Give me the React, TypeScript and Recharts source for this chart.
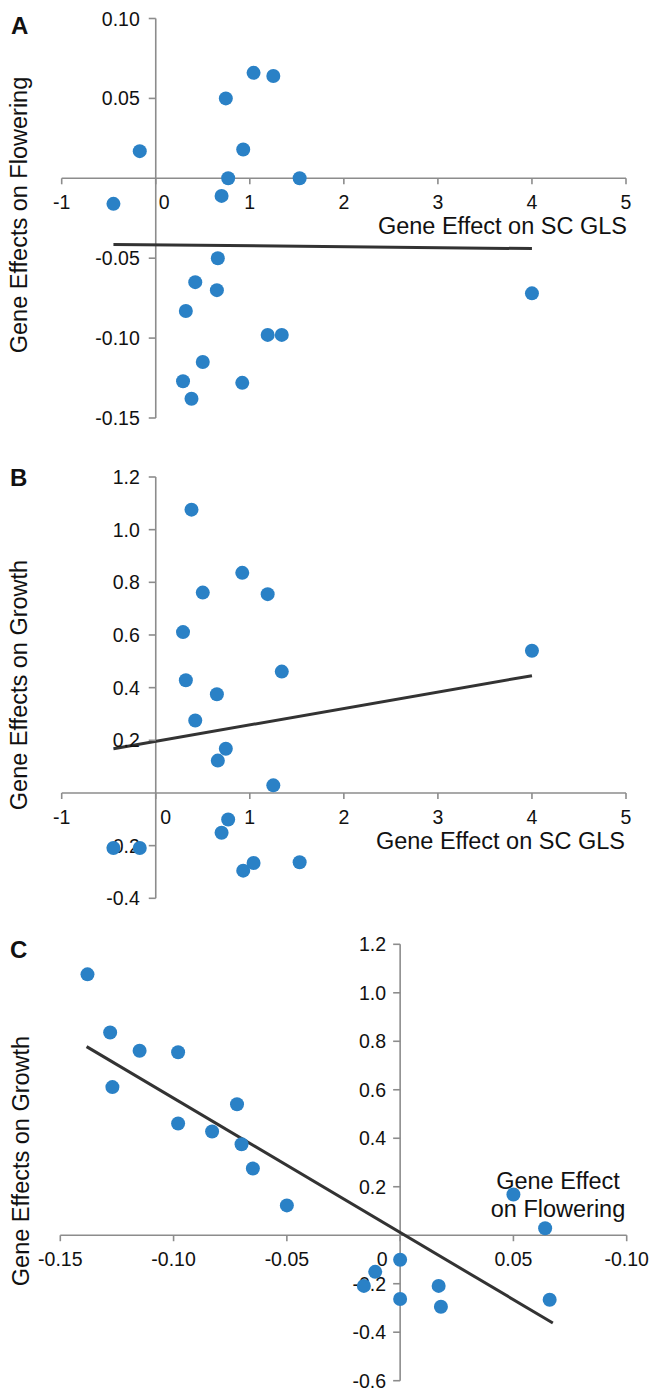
import React from 'react';
import { ScatterChart, Scatter, XAxis, YAxis, ReferenceLine, ReferenceDot } from 'recharts';

// ---- data (one entry per gene) ----
const geneEffectSCGLS = [1.04, 1.25, 0.745, -0.17, 0.93, 0.77, 1.53, 0.70, -0.45, 0.66, 0.42, 0.65, 0.32, 1.19, 1.34, 4.00, 0.50, 0.29, 0.92, 0.38];
const geneEffectFlowering = [0.066, 0.064, 0.050, 0.017, 0.018, 0.000, 0.000, -0.011, -0.016, -0.050, -0.065, -0.070, -0.083, -0.098, -0.098, -0.072, -0.115, -0.127, -0.128, -0.138];
const geneEffectGrowth = [-0.266, 0.029, 0.168, -0.209, -0.295, -0.101, -0.263, -0.151, -0.209, 0.123, 0.275, 0.375, 0.428, 0.755, 0.461, 0.540, 0.761, 0.611, 0.836, 1.076];

// trend line end points
const trendAx = [-0.45, 4.0];
const trendAy = [-0.0414, -0.044];
const trendBx = [-0.45, 4.0];
const trendBy = [0.168, 0.4455];
const trendCx = [-0.1384, 0.0674];
const trendCy = [0.778, -0.362];

// ticks
const xTicksAB = [-1, 0, 1, 2, 3, 4, 5];
const xLabelsAB = ['-1', '0', '1', '2', '3', '4', '5'];
const yTicksA = [0.1, 0.05, -0.05, -0.1, -0.15];
const yLabelsA = ['0.10', '0.05', '-0.05', '-0.10', '-0.15'];
const yTicksB = [1.2, 1.0, 0.8, 0.6, 0.4, 0.2, -0.2, -0.4];
const yLabelsB = ['1.2', '1.0', '0.8', '0.6', '0.4', '0.2', '-0.2', '-0.4'];
const xTicksC = [-0.15, -0.1, -0.05, 0, 0.05, 0.1];
const xLabelsC = ['-0.15', '-0.10', '-0.05', '0', '0.05', '-0.10'];
const yTicksC = [1.2, 1.0, 0.8, 0.6, 0.4, 0.2, -0.2, -0.4, -0.6];
const yLabelsC = ['1.2', '1.0', '0.8', '0.6', '0.4', '0.2', '-0.2', '-0.4', '-0.6'];

const ptsA = geneEffectSCGLS.map((x, i) => ({ x, y: geneEffectFlowering[i] }));
const ptsB = geneEffectSCGLS.map((x, i) => ({ x, y: geneEffectGrowth[i] }));
const ptsC = geneEffectFlowering.map((x, i) => ({ x, y: geneEffectGrowth[i] }));

const AXIS = '#8c8c8c';
const BLUE = '#2a81c6';
const FONT = '"Liberation Sans", Arial, Helvetica, sans-serif';
const TEXT = '#111111';

type PanelProps = {
  top: number;
  height: number;
  margin: { top: number; right: number; bottom: number; left: number };
  xDomain: [number, number];
  yDomain: [number, number];
  points: { x: number; y: number }[];
  tx: number[];
  ty: number[];
  xTicks: number[];
  xLabels: string[];
  yTicks: number[];
  yLabels: string[];
  zeroShift: number;
  yLabelGap: number;
};

function Panel(p: PanelProps) {
  return (
    <div style={{ position: 'absolute', left: 0, top: p.top, width: 662, height: p.height }}>
      <ScatterChart width={662} height={p.height} margin={p.margin}>
        <XAxis type="number" dataKey="x" domain={p.xDomain} hide allowDataOverflow />
        <YAxis type="number" dataKey="y" domain={p.yDomain} hide allowDataOverflow />
        <ReferenceLine y={0} stroke={AXIS} strokeWidth={1.6} />
        <ReferenceLine x={0} stroke={AXIS} strokeWidth={1.6} />
        {p.xTicks.map((t, i) => (
          <ReferenceDot
            key={'xt' + i}
            x={t}
            y={0}
            r={0}
            shape={(s: any) => (
              <g>
                <line x1={s.cx} y1={s.cy} x2={s.cx} y2={s.cy + 6} stroke={AXIS} strokeWidth={1.6} />
                <text
                  x={s.cx + (t === 0 ? p.zeroShift : 0)}
                  y={s.cy + 31}
                  textAnchor="middle"
                  fontSize={19.5}
                  fontFamily={FONT}
                  fill={TEXT}
                >
                  {p.xLabels[i]}
                </text>
              </g>
            )}
          />
        ))}
        {p.yTicks.map((t, i) => (
          <ReferenceDot
            key={'yt' + i}
            x={0}
            y={t}
            r={0}
            shape={(s: any) => (
              <g>
                <line x1={s.cx - 7} y1={s.cy} x2={s.cx} y2={s.cy} stroke={AXIS} strokeWidth={1.6} />
                <text
                  x={s.cx - p.yLabelGap}
                  y={s.cy + 7}
                  textAnchor="end"
                  fontSize={19.5}
                  fontFamily={FONT}
                  fill={TEXT}
                >
                  {p.yLabels[i]}
                </text>
              </g>
            )}
          />
        ))}
        <Scatter data={p.points} fill={BLUE} isAnimationActive={false} shape={(s: any) => <circle cx={s.cx} cy={s.cy} r={7} fill={BLUE} />} />
        <ReferenceLine
          segment={[
            { x: p.tx[0], y: p.ty[0] },
            { x: p.tx[1], y: p.ty[1] },
          ]}
          stroke="#333333"
          strokeWidth={3}
        />
      </ScatterChart>
    </div>
  );
}

export default function App() {
  return (
    <div style={{ position: 'absolute', left: 0, top: 0, width: 662, height: 1392, background: '#fff', fontFamily: FONT }}>
      <Panel
        top={0}
        height={440}
        margin={{ top: 18.5, right: 36, bottom: 22, left: 61.7 }}
        xDomain={[-1, 5]}
        yDomain={[-0.15, 0.1]}
        points={ptsA}
        tx={trendAx}
        ty={trendAy}
        xTicks={xTicksAB}
        xLabels={xLabelsAB}
        yTicks={yTicksA}
        yLabels={yLabelsA}
        zeroShift={8.5}
        yLabelGap={16}
      />
      <Panel
        top={450}
        height={470}
        margin={{ top: 27, right: 36, bottom: 21.7, left: 61.7 }}
        xDomain={[-1, 5]}
        yDomain={[-0.4, 1.2]}
        points={ptsB}
        tx={trendBx}
        ty={trendBy}
        xTicks={xTicksAB}
        xLabels={xLabelsAB}
        yTicks={yTicksB}
        yLabels={yLabelsB}
        zeroShift={10}
        yLabelGap={16}
      />
      <Panel
        top={920}
        height={472}
        margin={{ top: 24.3, right: 35.3, bottom: 11.3, left: 60.3 }}
        xDomain={[-0.15, 0.1]}
        yDomain={[-0.6, 1.2]}
        points={ptsC}
        tx={trendCx}
        ty={trendCy}
        xTicks={xTicksC}
        xLabels={xLabelsC}
        yTicks={yTicksC}
        yLabels={yLabelsC}
        zeroShift={-18}
        yLabelGap={14}
      />
      <svg width={662} height={1392} style={{ position: 'absolute', left: 0, top: 0, pointerEvents: 'none' }}>
        <g fontFamily={FONT} fill={TEXT}>
          <text x={11} y={34} fontSize={24} fontWeight="bold">A</text>
          <text x={10} y={486} fontSize={24} fontWeight="bold">B</text>
          <text x={10} y={958} fontSize={24} fontWeight="bold">C</text>
          <text x={19} y={215} fontSize={23.5} textAnchor="middle" dominantBaseline="central" transform="rotate(-90 19 215)">
            Gene Effects on Flowering
          </text>
          <text x={19} y={685} fontSize={23.5} textAnchor="middle" dominantBaseline="central" transform="rotate(-90 19 685)">
            Gene Effects on Growth
          </text>
          <text x={21} y={1161} fontSize={23.5} textAnchor="middle" dominantBaseline="central" transform="rotate(-90 21 1161)">
            Gene Effects on Growth
          </text>
          <text x={627} y={234} fontSize={23.5} textAnchor="end">Gene Effect on SC GLS</text>
          <text x={625} y={849} fontSize={23.5} textAnchor="end">Gene Effect on SC GLS</text>
          <text x={558} y={1189} fontSize={23.5} textAnchor="middle">Gene Effect</text>
          <text x={558} y={1217} fontSize={23.5} textAnchor="middle">on Flowering</text>
        </g>
      </svg>
    </div>
  );
}
